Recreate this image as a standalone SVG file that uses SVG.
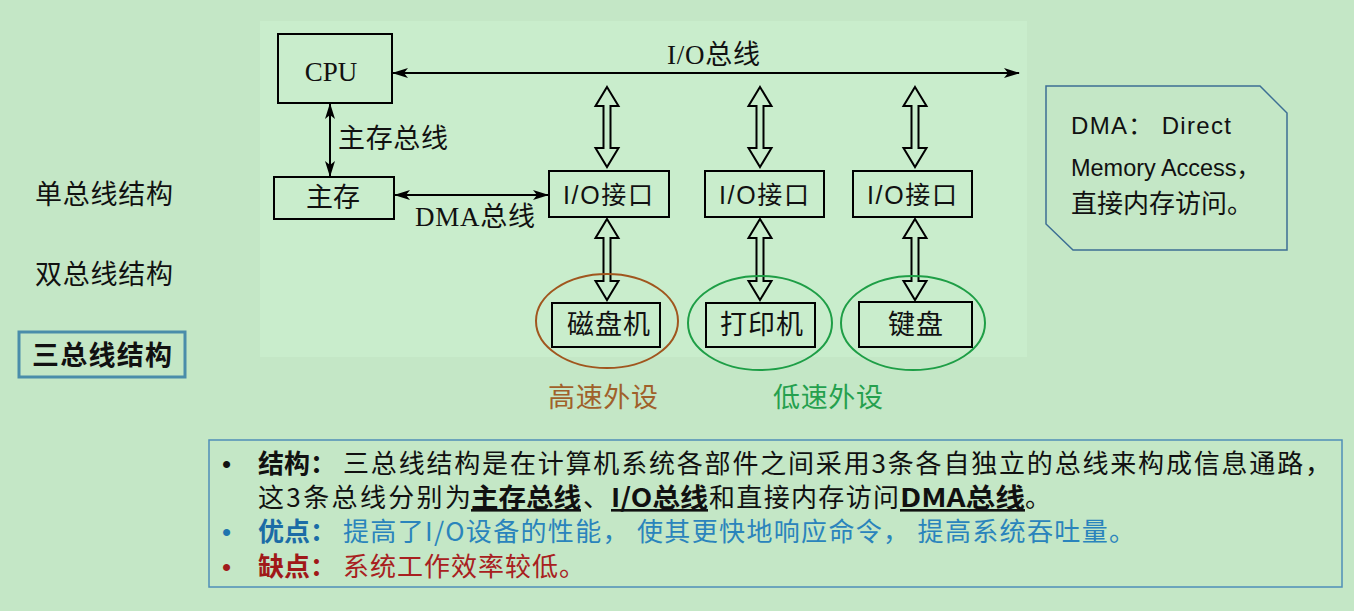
<svg xmlns="http://www.w3.org/2000/svg" width="1354" height="611" viewBox="0 0 1354 611">
<defs>
<style>
.bx{fill:none;stroke:#000;stroke-width:2}
.ser{font-family:"Liberation Serif","Noto Sans CJK SC",serif;font-size:27px;fill:#111}
.sans{font-family:"Liberation Sans","Noto Sans CJK SC",sans-serif;fill:#111}
.cjk{font-family:"Noto Sans CJK SC",sans-serif}
.ln{stroke:#000;stroke-width:2;fill:none}
.dbl{fill:none;stroke:#000;stroke-width:2;stroke-linejoin:miter}
.bul{font-family:"Liberation Sans",sans-serif;font-size:26px}
</style>
<marker id="ah" viewBox="0 0 16 10" refX="15" refY="5" markerWidth="16" markerHeight="10" markerUnits="userSpaceOnUse" orient="auto-start-reverse">
<path d="M0,0 L16,5 L0,10 L4,5 Z" fill="#000"/>
</marker>
</defs>
<rect x="0" y="0" width="1354" height="611" fill="#C4E7C6"/>
<rect x="260" y="21" width="767" height="336" fill="#C9EDCC"/>

<g id="left-labels">
<text class="cjk" x="35" y="204" font-size="27" fill="#111" textLength="138" lengthAdjust="spacing">单总线结构</text>
<text class="cjk" x="35" y="284" font-size="27" fill="#111" textLength="138" lengthAdjust="spacing">双总线结构</text>
<rect x="19" y="332" width="166" height="45" fill="none" stroke="#4A8DAA" stroke-width="3"/>
<text class="cjk" x="32" y="365" font-size="27" font-weight="bold" fill="#111" textLength="140" lengthAdjust="spacing">三总线结构</text>
</g>

<g id="connectors">
<line class="ln" x1="393" y1="73" x2="1019" y2="73" marker-start="url(#ah)" marker-end="url(#ah)"/>
<line class="ln" x1="330" y1="104" x2="330" y2="176" marker-start="url(#ah)" marker-end="url(#ah)"/>
<line class="ln" x1="395" y1="195" x2="548" y2="195" marker-start="url(#ah)" marker-end="url(#ah)"/>
<path class="dbl" d="M607,87 L618.5,106 L610.5,106 L610.5,148 L618.5,148 L607,167 L595.5,148 L603.5,148 L603.5,106 L595.5,106 Z"/>
<path class="dbl" d="M760,87 L771.5,106 L763.5,106 L763.5,148 L771.5,148 L760,167 L748.5,148 L756.5,148 L756.5,106 L748.5,106 Z"/>
<path class="dbl" d="M915,87 L926.5,106 L918.5,106 L918.5,148 L926.5,148 L915,167 L903.5,148 L911.5,148 L911.5,106 L903.5,106 Z"/>
<path class="dbl" d="M607,219 L618.5,238 L610.5,238 L610.5,281 L618.5,281 L607,300 L595.5,281 L603.5,281 L603.5,238 L595.5,238 Z"/>
<path class="dbl" d="M760,219 L771.5,238 L763.5,238 L763.5,281 L771.5,281 L760,300 L748.5,281 L756.5,281 L756.5,238 L748.5,238 Z"/>
<path class="dbl" d="M915,219 L926.5,238 L918.5,238 L918.5,281 L926.5,281 L915,300 L903.5,281 L911.5,281 L911.5,238 L903.5,238 Z"/>
<text class="ser" x="667" y="64" textLength="93" lengthAdjust="spacing">I/O总线</text>
<text class="ser" x="338" y="148" textLength="110" lengthAdjust="spacing">主存总线</text>
<text class="ser" x="415" y="226" textLength="120" lengthAdjust="spacing">DMA总线</text>
</g>

<g id="cpu">
<rect class="bx" x="278" y="34" width="114" height="69"/>
<text class="ser" x="331" y="81" text-anchor="middle" font-size="28">CPU</text>
</g>
<g id="mem">
<rect class="bx" x="274" y="177" width="120" height="42"/>
<text class="ser" x="333" y="207" text-anchor="middle">主存</text>
</g>
<g id="io1">
<rect class="bx" x="549" y="171" width="120" height="46"/>
<text class="sans" x="563" y="204" font-size="25" textLength="90" lengthAdjust="spacing">I/O接口</text>
</g>
<g id="io2">
<rect class="bx" x="705" y="171" width="119" height="46"/>
<text class="sans" x="719" y="204" font-size="25" textLength="90" lengthAdjust="spacing">I/O接口</text>
</g>
<g id="io3">
<rect class="bx" x="853" y="171" width="119" height="46"/>
<text class="sans" x="867" y="204" font-size="25" textLength="90" lengthAdjust="spacing">I/O接口</text>
</g>
<g id="disk">
<rect class="bx" x="552" y="303" width="108" height="44"/>
<text class="ser" x="567" y="334" textLength="83" lengthAdjust="spacing">磁盘机</text>
<ellipse cx="607" cy="321" rx="71" ry="47" fill="none" stroke="#A0561E" stroke-width="2"/>
</g>
<g id="printer">
<rect class="bx" x="706" y="303" width="109" height="44"/>
<text class="ser" x="720" y="334" textLength="83" lengthAdjust="spacing">打印机</text>
<ellipse cx="760" cy="323" rx="72" ry="47" fill="none" stroke="#1E9E46" stroke-width="2"/>
</g>
<g id="keyboard">
<rect class="bx" x="859" y="302" width="113" height="45"/>
<text class="ser" x="888" y="334" textLength="55" lengthAdjust="spacing">键盘</text>
<ellipse cx="913" cy="323" rx="72" ry="47" fill="none" stroke="#1E9E46" stroke-width="2"/>
</g>
<g id="speed-labels">
<text class="cjk" x="548" y="407" font-size="27" fill="#A0602A" textLength="110" lengthAdjust="spacing">高速外设</text>
<text class="cjk" x="773" y="407" font-size="27" fill="#25A04E" textLength="110" lengthAdjust="spacing">低速外设</text>
</g>

<g id="dma-note">
<path d="M1046,86 L1260,86 L1287,113 L1287,250 L1073,250 L1046,224 Z" fill="#C4E7C6" stroke="#3D6F94" stroke-width="1.5"/>
<text class="sans" x="1071" y="134" font-size="24" textLength="160" lengthAdjust="spacing">DMA：  Direct</text>
<text class="sans" x="1071" y="176" font-size="24" textLength="189" lengthAdjust="spacingAndGlyphs">Memory Access，</text>
<text class="cjk" x="1071" y="213" font-size="26" fill="#111" textLength="182" lengthAdjust="spacing">直接内存访问。</text>
</g>

<g id="summary">
<rect x="209" y="440" width="1133" height="147" fill="none" stroke="#4F8FB8" stroke-width="1.5"/>
<g font-family="Noto Sans CJK SC, sans-serif" font-size="26">
<text class="bul" x="222" y="473" fill="#111">•</text>
<text x="258" y="473" fill="#111" font-weight="bold">结构：</text>
<text x="343" y="473" fill="#111" textLength="988" lengthAdjust="spacing">三总线结构是在计算机系统各部件之间采用3条各自独立的总线来构成信息通路，</text>
<text x="258" y="507" fill="#111" textLength="213" lengthAdjust="spacing">这3条总线分别为</text>
<text x="471" y="507" fill="#111" font-weight="bold" text-decoration="underline" textLength="110" lengthAdjust="spacingAndGlyphs">主存总线</text>
<text x="583" y="507" fill="#111">、</text>
<text x="611" y="507" fill="#111" font-weight="bold" text-decoration="underline" textLength="97" lengthAdjust="spacingAndGlyphs">I/O总线</text>
<text x="709" y="507" fill="#111" textLength="190" lengthAdjust="spacing">和直接内存访问</text>
<text x="900" y="507" fill="#111" font-weight="bold" text-decoration="underline" textLength="125" lengthAdjust="spacingAndGlyphs">DMA总线</text>
<text x="1025" y="507" fill="#111">。</text>
<text class="bul" x="222" y="541" fill="#1F74AE">•</text>
<text x="258" y="541" fill="#1B6CA6" font-weight="bold">优点：</text>
<text x="343" y="541" fill="#2A84BC" textLength="792" lengthAdjust="spacing">提高了I/O设备的性能， 使其更快地响应命令， 提高系统吞吐量。</text>
<text class="bul" x="222" y="576" fill="#A01C1C">•</text>
<text x="258" y="576" fill="#A01818" font-weight="bold">缺点：</text>
<text x="343" y="576" fill="#A82020" textLength="242" lengthAdjust="spacing">系统工作效率较低。</text>
</g>
</g>
</svg>
